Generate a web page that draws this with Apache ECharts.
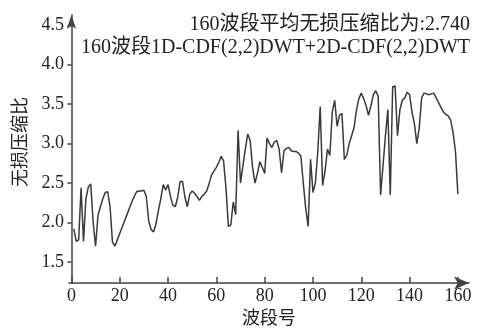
<!DOCTYPE html>
<html>
<head>
<meta charset="utf-8">
<script src="https://cdn.jsdelivr.net/npm/echarts@6/dist/echarts.min.js"></script>
<style>
  html, body { margin: 0; padding: 0; background: #fff; }
  #chart { width: 477px; height: 333px; }
</style>
</head>
<body>
<div id="chart"></div>
<script>
// lossless compression ratio per band (bands 1..160)
var ratios = [
  1.92, 1.76, 1.78, 2.44, 1.76, 2.30, 2.45, 2.49, 2.00, 1.70,
  2.09, 2.20, 2.30, 2.38, 2.39, 2.20, 1.75, 1.70, 1.78, 1.86,
  1.94, 2.02, 2.10, 2.18, 2.26, 2.33, 2.39, 2.40, 2.40, 2.41,
  2.33, 2.02, 1.91, 1.88, 1.98, 2.15, 2.30, 2.48, 2.41, 2.48,
  2.33, 2.22, 2.20, 2.32, 2.52, 2.52, 2.32, 2.20, 2.36, 2.40,
  2.37, 2.33, 2.28, 2.33, 2.36, 2.40, 2.49, 2.60, 2.65, 2.70,
  2.76, 2.84, 2.78, 2.43, 1.95, 1.97, 2.26, 2.10, 3.17, 2.50,
  2.72, 2.93, 3.12, 3.04, 2.70, 2.50, 2.62, 2.77, 2.70, 2.62,
  3.07, 3.00, 2.95, 3.02, 3.04, 2.93, 2.63, 2.91, 2.94, 2.95,
  2.91, 2.90, 2.90, 2.88, 2.84, 2.50, 2.18, 1.95, 2.80, 2.38,
  2.50, 2.90, 3.47, 2.47, 2.65, 2.93, 2.85, 3.40, 3.55, 3.22,
  3.36, 3.38, 2.80, 2.85, 3.00, 3.10, 3.20, 3.42, 3.57, 3.64,
  3.57, 3.48, 3.36, 3.48, 3.62, 3.67, 3.60, 2.35, 2.72, 3.10,
  3.43, 2.35, 3.72, 3.73, 3.10, 3.43, 3.55, 3.58, 3.65, 3.62,
  3.40, 3.25, 3.00, 3.20, 3.58, 3.64, 3.63, 3.62, 3.63, 3.64,
  3.58, 3.52, 3.46, 3.40, 3.37, 3.35, 3.30, 3.14, 2.90, 2.36
];
var bands = ratios.map(function (v, i) { return i + 1; });
var xTicks = [0, 20, 40, 60, 80, 100, 120, 140, 160];
var yTicks = [1.5, 2.0, 2.5, 3.0, 3.5, 4.0, 4.5];
var titleLine1 = '160波段平均无损压缩比为:2.740';
var titleLine2 = '160波段1D-CDF(2,2)DWT+2D-CDF(2,2)DWT';

var font = "'Liberation Serif', 'Noto Sans CJK SC', serif";
var ink = '#222';
var axisColor = '#444';

var chart = echarts.init(document.getElementById('chart'));
chart.setOption({
  animation: false,
  backgroundColor: '#fff',
  grid: { left: 69, right: 8, top: 15, bottom: 47.3 },
  graphic: [
    {
      type: 'text', x: 470, y: 25,
      style: { text: titleLine1, align: 'right', verticalAlign: 'middle',
        font: '20px ' + font, fill: ink }
    },
    {
      type: 'text', x: 470, y: 48,
      style: { text: titleLine2, align: 'right', verticalAlign: 'middle',
        font: '20px ' + font, fill: ink }
    }
  ],
  xAxis: {
    type: 'value',
    min: -1,
    max: 164.6,
    name: '波段号',
    nameLocation: 'middle',
    nameGap: 26,
    nameTextStyle: { color: ink, fontSize: 18, fontFamily: font },
    axisLine: {
      lineStyle: { color: axisColor, width: 1.5 },
      symbol: ['none', 'arrow'],
      symbolSize: [10, 15]
    },
    axisTick: {
      inside: true, length: 6,
      customValues: xTicks,
      lineStyle: { color: axisColor, width: 1.5 }
    },
    axisLabel: {
      customValues: xTicks,
      margin: 4,
      color: ink, fontSize: 18, fontFamily: font
    },
    splitLine: { show: false }
  },
  yAxis: {
    type: 'value',
    min: 1.232,
    max: 4.63,
    name: '无损压缩比',
    nameLocation: 'middle',
    nameRotate: 90,
    nameGap: 31,
    nameTextStyle: { color: ink, fontSize: 18, fontFamily: font, padding: [0, 0, 0, 14] },
    axisLine: {
      lineStyle: { color: axisColor, width: 1.5 },
      symbol: ['none', 'arrow'],
      symbolSize: [7, 14]
    },
    axisTick: {
      inside: false, length: 4,
      customValues: yTicks,
      lineStyle: { color: axisColor, width: 1.5 }
    },
    axisLabel: {
      customValues: yTicks,
      margin: 5,
      color: ink, fontSize: 18, fontFamily: font,
      formatter: function (v) { return v.toFixed(1); }
    },
    splitLine: { show: false }
  },
  series: [{
    type: 'line',
    data: bands.map(function (b, i) { return [b, ratios[i]]; }),
    showSymbol: false,
    lineStyle: { color: '#3a3a3a', width: 1.5 },
    itemStyle: { color: '#3a3a3a' }
  }]
});
</script>
</body>
</html>
